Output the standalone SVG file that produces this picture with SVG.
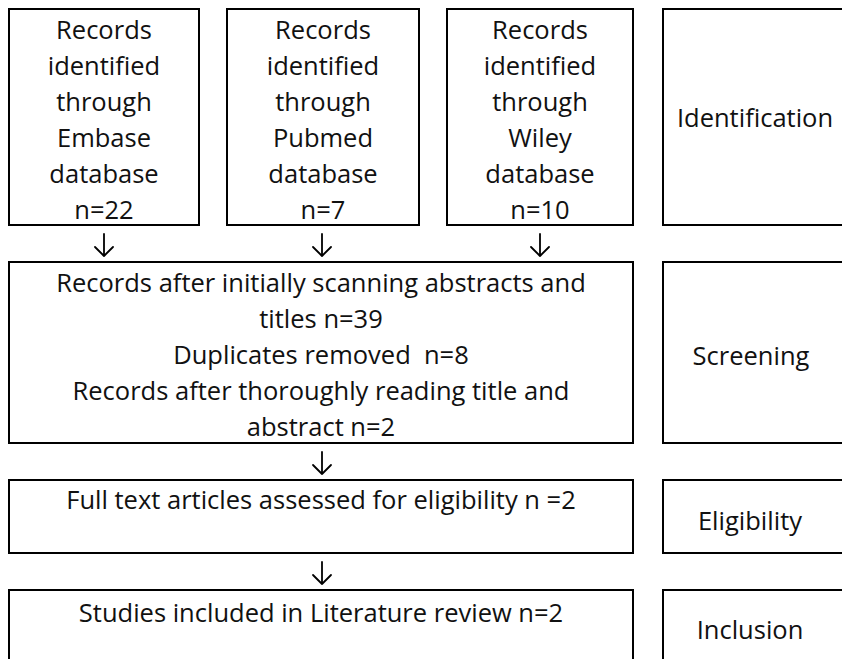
<svg xmlns="http://www.w3.org/2000/svg" width="842" height="659" viewBox="0 0 842 659">
<style>
.box{fill:#fff;stroke:#000;stroke-width:2}
.t{font-family:"Open Sans","Liberation Sans",sans-serif;font-size:25.5px;fill:#111;text-anchor:middle}
.arr{fill:none;stroke:#000;stroke-width:1.8;stroke-linecap:round;stroke-linejoin:round}
</style>
<rect width="842" height="659" fill="#fff"/>
<g id="embase">
<rect class="box" x="9" y="9" width="190" height="216"/>
<text class="t" x="104"><tspan x="104" y="39">Records</tspan><tspan x="104" y="75">identified</tspan><tspan x="104" y="111">through</tspan><tspan x="104" y="147">Embase</tspan><tspan x="104" y="183">database</tspan><tspan x="104" y="219">n=22</tspan></text>
</g>
<g id="pubmed">
<rect class="box" x="227" y="9" width="192" height="216"/>
<text class="t" x="323"><tspan x="323" y="39">Records</tspan><tspan x="323" y="75">identified</tspan><tspan x="323" y="111">through</tspan><tspan x="323" y="147">Pubmed</tspan><tspan x="323" y="183">database</tspan><tspan x="323" y="219">n=7</tspan></text>
</g>
<g id="wiley">
<rect class="box" x="447" y="9" width="186" height="216"/>
<text class="t" x="540"><tspan x="540" y="39">Records</tspan><tspan x="540" y="75">identified</tspan><tspan x="540" y="111">through</tspan><tspan x="540" y="147">Wiley</tspan><tspan x="540" y="183">database</tspan><tspan x="540" y="219">n=10</tspan></text>
</g>
<g id="identification">
<rect class="box" x="663" y="9" width="200" height="216"/>
<text class="t" x="755" y="127">Identification</text>
</g>
<g id="screening-box">
<rect class="box" x="9" y="262" width="624" height="181"/>
<text class="t" x="321"><tspan x="321" y="292">Records after initially scanning abstracts and</tspan><tspan x="321" y="328">titles n=39</tspan><tspan x="321" y="364">Duplicates removed&#160; n=8</tspan><tspan x="321" y="400">Records after thoroughly reading title and</tspan><tspan x="321" y="436">abstract n=2</tspan></text>
</g>
<g id="screening">
<rect class="box" x="663" y="262" width="200" height="181"/>
<text class="t" x="751" y="365">Screening</text>
</g>
<g id="eligibility-box">
<rect class="box" x="9" y="480" width="624" height="73"/>
<text class="t" x="321" y="509">Full text articles assessed for eligibility n =2</text>
</g>
<g id="eligibility">
<rect class="box" x="663" y="480" width="200" height="73"/>
<text class="t" x="750" y="530">Eligibility</text>
</g>
<g id="inclusion-box">
<rect class="box" x="9" y="590" width="624" height="100"/>
<text class="t" x="321" y="622">Studies included in Literature review n=2</text>
</g>
<g id="inclusion">
<rect class="box" x="663" y="590" width="200" height="100"/>
<text class="t" x="750" y="639">Inclusion</text>
</g>
<g id="connectors">
<path class="arr" d="M104 234V256M95 247L104 256L113 247"/>
<path class="arr" d="M322 234V256M313 247L322 256L331 247"/>
<path class="arr" d="M540 234V256M531 247L540 256L549 247"/>
<path class="arr" d="M322 452V474M313 465L322 474L331 465"/>
<path class="arr" d="M322 562V584M313 575L322 584L331 575"/>
</g>
</svg>
